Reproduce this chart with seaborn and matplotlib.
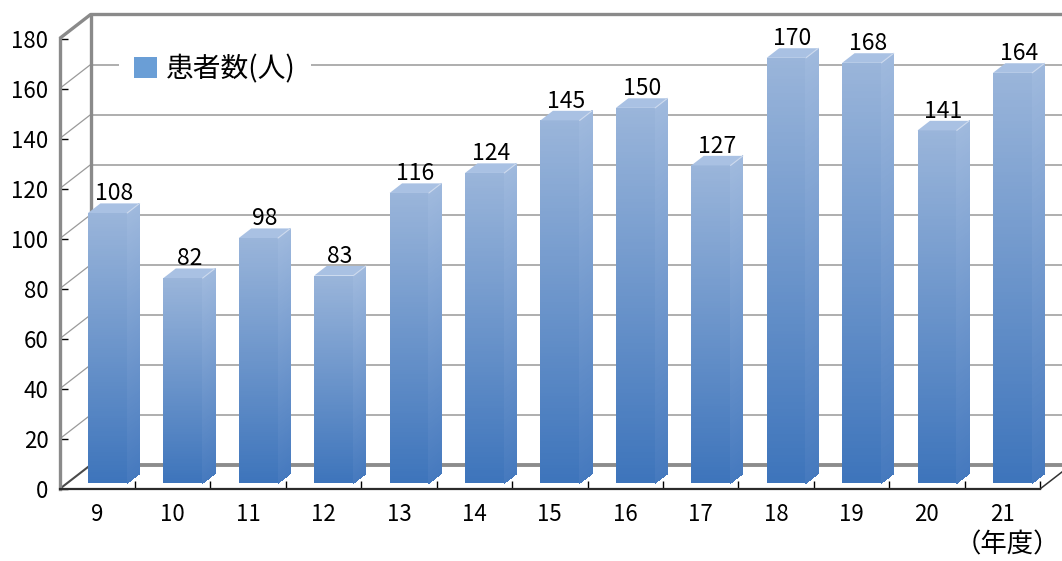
import numpy as np
import pandas as pd
import matplotlib
matplotlib.use("Agg")
import matplotlib.pyplot as plt
from matplotlib.patches import Patch, Polygon
from matplotlib.collections import PolyCollection
from matplotlib.colors import to_rgb
import seaborn as sns

# ---- data ----
years = ["9", "10", "11", "12", "13", "14", "15", "16", "17", "18", "19", "20", "21"]
patients = [108, 82, 98, 83, 116, 124, 145, 150, 127, 170, 168, 141, 164]
y_ticks = [0, 20, 40, 60, 80, 100, 120, 140, 160, 180]
series_label = "患者数(人)"
x_unit = "（年度）"

# ---- style ----
sns.set_theme(style="white")
plt.rcParams["font.family"] = ["Noto Sans CJK JP", "DejaVu Sans"]
plt.rcParams.update({"text.color": "black", "xtick.color": "black",
                     "ytick.color": "black", "axes.labelcolor": "black"})

W, H = 1062, 561
fig = plt.figure(figsize=(W / 100, H / 100), dpi=100)
fig.patch.set_facecolor("white")

# front plane of the 3-D box, in pixel positions
ax_left, ax_right, ax_bottom, ax_top = 59.6, 1040.0, 489.0, 38.5
ax = fig.add_axes([ax_left / W, 1 - ax_bottom / H,
                   (ax_right - ax_left) / W, (ax_bottom - ax_top) / H])

n = len(years)
y_max = y_ticks[-1]
px_per_cat = (ax_right - ax_left) / n
px_per_unit = (ax_bottom - ax_top) / y_max

# depth vector from the front plane to the back wall, in data units
DX = 31 / px_per_cat
DY = 24 / px_per_unit

# bar placement inside the box
BAR_W = 0.52
SHIFT_X = 10.3 / px_per_cat
BASE = 5.7 / px_per_unit
BDX, BDY = 0.4 * DX, 0.4 * DY

FRONT_BOTTOM, FRONT_TOP = "#3d74bb", "#9ab5da"
SIDE_BOTTOM, SIDE_TOP = "#4579be", "#9fb9dd"
TOP_FACE = "#a9c1e3"

df = pd.DataFrame({"year": years, "patients": patients})
sns.barplot(data=df, x="year", y="patients", order=years, width=BAR_W,
            color="#6d98cc", saturation=1, errorbar=None, ax=ax, zorder=3)


def gradient_face(xa, xb, y_left, y_right, height, c0, c1, steps=120, z=3.2):
    c0, c1 = np.array(to_rgb(c0)), np.array(to_rgb(c1))
    t = np.linspace(0, 1, steps + 1)
    polys, cols = [], []
    for i in range(steps):
        a, b = t[i] * height, t[i + 1] * height
        polys.append([(xa, y_left + a), (xb, y_right + a),
                      (xb, y_right + b), (xa, y_left + b)])
        cols.append(c0 + (c1 - c0) * (t[i] + t[i + 1]) / 2)
    return PolyCollection(polys, facecolors=cols, edgecolors="none",
                          linewidths=0, antialiaseds=False, zorder=z, clip_on=False)


for rect, v in zip(list(ax.patches), patients):
    x0 = rect.get_x() + SHIFT_X
    w = rect.get_width()
    rect.set_x(x0)
    rect.set_y(BASE)
    rect.set_height(v)
    rect.set_linewidth(0)
    y0, y1 = BASE, BASE + v
    # front face
    ax.add_collection(gradient_face(x0, x0 + w, y0, y0, v, FRONT_BOTTOM, FRONT_TOP))
    # side face
    ax.add_collection(gradient_face(x0 + w, x0 + w + BDX, y0, y0 + BDY, v,
                                    SIDE_BOTTOM, SIDE_TOP))
    # top face
    ax.add_patch(Polygon([(x0, y1), (x0 + w, y1), (x0 + w + BDX, y1 + BDY),
                          (x0 + BDX, y1 + BDY)], closed=True, facecolor=TOP_FACE,
                         edgecolor="none", zorder=3.3, clip_on=False))
    ax.plot([x0 + w, x0 + w + BDX], [y1, y1 + BDY], color="#cfdbee", lw=0.8,
            zorder=3.4, clip_on=False)
    # value label
    ax.text(x0 + w / 2 + BDX / 2, y1 + BDY + 1.2, str(v), ha="center",
            va="baseline", fontsize=16.5, zorder=6, clip_on=False)

# ---- box walls ----
xl, xr = -0.5, n - 0.5
kw = dict(clip_on=False, solid_capstyle="butt")
for v in y_ticks[1:-1]:
    ax.plot([xl + DX, xr + DX], [v + DY, v + DY], color="#a8a8a8", lw=1.3, zorder=1, **kw)
    ax.plot([xl, xl + DX], [v, v + DY], color="#9a9a9a", lw=0.9, zorder=1, **kw)
wall = "#8a8a8a"
ax.plot([xl, xl + DX, xr + DX], [y_max, y_max + DY, y_max + DY], color=wall, lw=2.4, zorder=1.5, **kw)
ax.plot([xl + DX, xl + DX], [DY, y_max + DY], color=wall, lw=2.4, zorder=1.5, **kw)
ax.plot([xl + DX, xr + DX], [DY, DY], color="#8c8c8c", lw=2.8, zorder=1.5, **kw)
ax.plot([xl, xl + DX], [0, DY], color="#4a4a4a", lw=1.5, zorder=1.5, **kw)
ax.plot([xr, xr + DX], [0, DY], color="#333333", lw=1.1, zorder=1.5, **kw)

# ---- axes ----
ax.set_xlim(xl, xr)
ax.set_ylim(0, y_max)
ax.set_xlabel("")
ax.set_ylabel("")
for side in ("top", "right"):
    ax.spines[side].set_visible(False)
ax.spines["left"].set_color(wall)
ax.spines["left"].set_linewidth(2.4)
ax.spines["bottom"].set_color("#2b2b2b")
ax.spines["bottom"].set_linewidth(1.6)

ax.set_yticks(y_ticks)
ax.set_yticklabels([str(t) for t in y_ticks])
ax.set_xticks(np.arange(0.5, n, 1.0))
ax.set_xticklabels([])
ax.set_xticks(range(n), minor=True)
ax.set_xticklabels(years, minor=True)
ax.tick_params(axis="x", which="major", bottom=True, direction="in", length=6,
               width=1, color="black")
ax.tick_params(axis="x", which="minor", bottom=True, length=0, pad=10, labelsize=16)
ax.tick_params(axis="y", left=True, direction="in", length=6, width=1,
               color="black", pad=8, labelsize=16)

# ---- legend and unit ----
handle = Patch(facecolor="#6a9ed6", edgecolor="none", label=series_label)
leg = ax.legend(handles=[handle], loc="center",
                bbox_to_anchor=(215 / W, 1 - 69 / H), bbox_transform=fig.transFigure,
                frameon=True, fancybox=False, framealpha=1, facecolor="white",
                edgecolor="none", fontsize=20, handlelength=0.8, handleheight=0.8,
                handletextpad=0.33, borderpad=0.55)
leg.set_zorder(5)

fig.text(1060 / W, 2.5 / H, x_unit, ha="right", va="bottom", fontsize=19)

fig.savefig("out.png", dpi=100)
